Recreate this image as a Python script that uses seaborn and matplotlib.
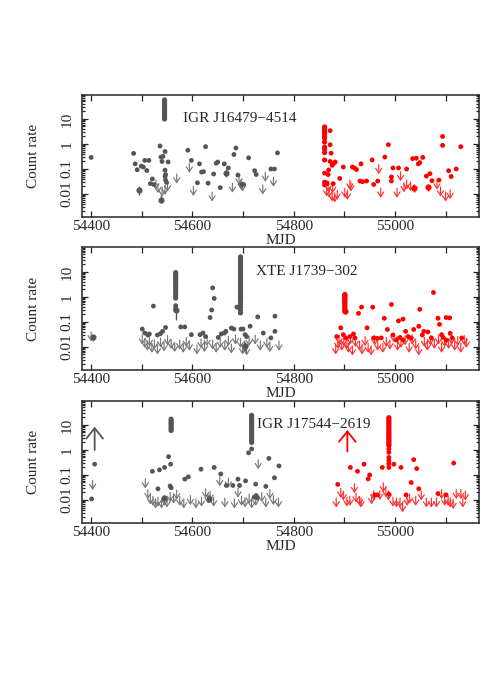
import numpy as np
import matplotlib
matplotlib.use("Agg")
import matplotlib.pyplot as plt
import seaborn as sns
from matplotlib.ticker import MultipleLocator, LogLocator, FixedLocator, FuncFormatter, NullFormatter

sns.set_style("ticks")
plt.rcParams["font.family"] = ["Liberation Serif", "DejaVu Serif"]
plt.rcParams["axes.unicode_minus"] = True

GRAY = "#555555"
GRAY_UL = "#777777"
RED = "#ff0000"
RED_UL = "#ff3030"

# ── panel 1: IGR J16479-4514 ────────────────────────────────────────────────
P1_NAME = "IGR J16479\u22124514"
P1_GRAY_DET = [
    (54400, 0.29), (54484, 0.42), (54487, 0.16), (54491, 0.093), (54499, 0.13),
    (54503, 0.12), (54506, 0.22), (54510, 0.087), (54514, 0.22), (54517, 0.026),
    (54521, 0.04), (54524, 0.024), (54536, 0.83), (54538, 0.30), (54540, 0.20),
    (54542, 0.32), (54546, 0.50), (54546, 0.09), (54547, 0.06), (54546, 0.05),
    (54547, 0.036), (54549, 0.029), (54552, 0.19), (54591, 0.56), (54598, 0.22),
    (54610, 0.028), (54614, 0.16), (54618, 0.075), (54622, 0.078), (54626, 0.78),
    (54631, 0.027), (54642, 0.063), (54647, 0.17), (54650, 0.19), (54655, 0.018),
    (54663, 0.16), (54671, 0.11), (54682, 0.38), (54686, 0.69), (54690, 0.057),
    (54697, 0.024), (54701, 0.024), (54711, 0.28), (54723, 0.085), (54726, 0.06),
    (54755, 0.10), (54762, 0.10), (54768, 0.44),
]
P1_GRAY_ERR = [(54495, 0.014, 0.009, 0.021), (54538, 0.0055, 0.0042, 0.009),
               (54667, 0.07, 0.05, 0.1)]
P1_GRAY_BAR = (54545, [10, 11.5, 13, 15, 17.5, 20, 23, 27, 31, 36, 42, 50, 58])
P1_GRAY_UL = [
    (54528, 0.036), (54532, 0.026), (54540, 0.019), (54546, 0.022), (54551, 0.03),
    (54569, 0.063), (54594, 0.17), (54602, 0.02), (54639, 0.012), (54679, 0.027),
    (54692, 0.057), (54696, 0.036), (54699, 0.03), (54739, 0.023), (54744, 0.074),
    (54760, 0.047),
]
P1_RED_DET = [
    (54872, 3.4), (54872, 0.93), (54874, 0.43), (54869, 0.091), (54868, 0.06),
    (54872, 0.2), (54876, 0.14), (54879, 0.17), (54882, 0.19), (54865, 0.028),
    (54866, 0.026), (54878, 0.026), (54891, 0.042), (54898, 0.12), (54916, 0.12),
    (54920, 0.11), (54924, 0.095), (54933, 0.16), (54931, 0.033), (54936, 0.031),
    (54944, 0.033), (54955, 0.23), (54958, 0.024), (54966, 0.033), (54980, 0.30),
    (54987, 0.94), (54993, 0.048), (54993, 0.033), (54996, 0.11), (55007, 0.11),
    (55023, 0.10), (55035, 0.26), (55042, 0.27), (55046, 0.16), (55049, 0.18),
    (55055, 0.29), (55062, 0.052), (55069, 0.065), (55073, 0.034), (55087, 0.036),
    (55094, 2.0), (55094, 0.88), (55106, 0.085), (55111, 0.05), (55121, 0.10),
    (55130, 0.78), (54861, 0.068), (54861, 0.03), (54862, 0.026), (54861, 0.023),
]
P1_RED_ERR = [(55038, 0.017, 0.012, 0.025), (55066, 0.019, 0.013, 0.026)]
P1_RED_BAR = (54861, [4.8, 4.3, 3.8, 3.3, 2.8, 2.4, 2.0, 1.7, 1.2, 0.75, 0.62, 0.45, 0.23])
P1_RED_UL = [
    (54865, 0.019), (54868, 0.03), (54870, 0.017), (54876, 0.012), (54881, 0.011),
    (54886, 0.014), (54877, 0.026), (54901, 0.017), (54906, 0.014), (54911, 0.036),
    (54913, 0.03), (54968, 0.15), (54972, 0.017), (55004, 0.017), (55011, 0.078),
    (55018, 0.028), (55023, 0.036), (55031, 0.031), (55083, 0.036), (55090, 0.019),
    (55100, 0.012), (55109, 0.015),
]
P1_LOWER = []

# ── panel 2: XTE J1739-302 ──────────────────────────────────────────────────
P2_NAME = "XTE J1739\u2212302"
P2_GRAY_DET = [
    (54523, 0.43), (54635, 0.15), (54638, 0.30), (54640, 2.3), (54643, 0.87),
    (54688, 0.39), (54729, 0.16), (54763, 0.17), (54501, 0.052), (54506, 0.036),
    (54512, 0.03), (54515, 0.033), (54531, 0.03), (54537, 0.034), (54541, 0.042),
    (54547, 0.06), (54577, 0.063), (54585, 0.063), (54598, 0.031), (54615, 0.031),
    (54621, 0.036), (54626, 0.026), (54651, 0.024), (54657, 0.033), (54663, 0.036),
    (54666, 0.042), (54677, 0.057), (54682, 0.052), (54696, 0.052), (54700, 0.052),
    (54704, 0.031), (54707, 0.026), (54714, 0.067), (54740, 0.036), (54755, 0.023),
    (54763, 0.042), (54567, 0.45), (54567, 0.36), (54567, 0.30),
]
P2_GRAY_ERR = [(54403, 0.024, 0.018, 0.03), (54567, 0.3, 0.12, 0.4),
               (54703, 0.011, 0.007, 0.016)]
P2_GRAY_BAR = (54567, [9.4, 8, 6.8, 5.6, 4.7, 3.9, 3.2, 2.6, 2.1, 1.7, 1.4, 1.1, 0.9])
P2_GRAY_BAR2 = (54695, [40, 34, 28, 23, 19, 16, 13, 11, 9, 7.5, 6, 5, 4, 3.3, 2.7,
                        2.2, 1.8, 1.5, 1.2, 1.0, 0.8, 0.65, 0.5, 0.4, 0.3, 0.23])
P2_GRAY_UL = [
    (54400, 0.04), (54501, 0.03), (54506, 0.022), (54511, 0.017), (54515, 0.026),
    (54520, 0.014), (54525, 0.019), (54531, 0.012), (54537, 0.023), (54544, 0.016),
    (54551, 0.028), (54558, 0.02), (54565, 0.015), (54575, 0.019), (54582, 0.014),
    (54588, 0.024), (54594, 0.017), (54609, 0.012), (54617, 0.021), (54624, 0.015),
    (54629, 0.026), (54640, 0.019), (54647, 0.014), (54655, 0.022), (54664, 0.017),
    (54671, 0.026), (54677, 0.013), (54685, 0.03), (54695, 0.022), (54699, 0.012),
    (54703, 0.017), (54707, 0.011), (54712, 0.026), (54724, 0.03), (54734, 0.017),
    (54747, 0.022), (54753, 0.015), (54771, 0.017),
]
P2_RED_DET = [
    (54893, 0.058), (54928, 0.22), (54934, 0.39), (54945, 0.058), (54956, 0.39),
    (54979, 0.14), (54985, 0.05), (54993, 0.50), (55007, 0.11), (55016, 0.13),
    (55037, 0.05), (55047, 0.067), (55049, 0.32), (55065, 0.04), (55076, 1.5),
    (55085, 0.14), (55088, 0.08), (55092, 0.031), (55095, 0.024), (55101, 0.15),
    (55108, 0.145), (55109, 0.035), (55113, 0.023), (55132, 0.023), (54885, 0.026),
    (54898, 0.031), (54903, 0.023), (54911, 0.026), (54918, 0.033), (54921, 0.023),
    (54958, 0.023), (54965, 0.022), (54973, 0.023), (54996, 0.03), (55003, 0.019),
    (55010, 0.024), (55016, 0.019), (55021, 0.042), (55026, 0.026), (55032, 0.023),
    (55054, 0.03), (55057, 0.042), (55072, 0.023), (55101, 0.019),
]
P2_RED_ERR = [(54901, 0.27, 0.2, 0.35)]
P2_RED_BAR = (54901, [1.26, 1.15, 1.05, 0.95, 0.85, 0.75, 0.66, 0.58, 0.5, 0.43,
                      0.37, 0.31, 0.27])
P2_RED_UL = [
    (54883, 0.012), (54887, 0.02), (54890, 0.03), (54895, 0.017), (54899, 0.026),
    (54905, 0.02), (54908, 0.014), (54912, 0.03), (54916, 0.011), (54922, 0.024),
    (54930, 0.017), (54935, 0.012), (54941, 0.026), (54947, 0.014), (54953, 0.011),
    (54960, 0.028), (54966, 0.017), (54976, 0.014), (54983, 0.024), (54990, 0.019),
    (54998, 0.036), (55005, 0.017), (55012, 0.022), (55020, 0.028), (55028, 0.014),
    (55034, 0.03), (55041, 0.019), (55047, 0.011), (55058, 0.024), (55064, 0.017),
    (55070, 0.028), (55078, 0.02), (55086, 0.03), (55092, 0.014), (55098, 0.024),
    (55106, 0.02), (55112, 0.03), (55118, 0.017), (55124, 0.026), (55130, 0.014),
    (55137, 0.028), (55141, 0.022),
]

# ── panel 3: IGR J17544-2619 ────────────────────────────────────────────────
P3_NAME = "IGR J17544\u22122619"
P3_GRAY_DET = [
    (54401, 0.011), (54407, 0.27), (54521, 0.14), (54535, 0.16), (54545, 0.20),
    (54553, 0.54), (54557, 0.27), (54532, 0.028), (54556, 0.036), (54558, 0.031),
    (54585, 0.068), (54592, 0.084), (54617, 0.17), (54643, 0.20), (54656, 0.11),
    (54667, 0.038), (54680, 0.038), (54690, 0.068), (54693, 0.038), (54705, 0.058),
    (54711, 0.77), (54717, 1.1), (54725, 0.043), (54745, 0.035), (54751, 0.46),
    (54762, 0.077), (54771, 0.23), (54722, 0.013), (54726, 0.015), (54728, 0.012),
]
P3_GRAY_ERR = [(54543, 0.012, 0.009, 0.016), (54632, 0.011, 0.008, 0.016)]
P3_GRAY_BAR = (54558, [6, 7, 8, 9.5, 11, 12.5, 14.5, 17])
P3_GRAY_BAR2 = (54717, [2.0, 2.4, 2.9, 3.5, 4.2, 5, 6, 7.2, 8.6, 10.3, 12.3, 14.7,
                        17.6, 21, 24])
P3_GRAY_UL = [
    (54403, 0.06), (54507, 0.07), (54512, 0.026), (54517, 0.016), (54522, 0.014),
    (54527, 0.011), (54532, 0.013), (54539, 0.011), (54545, 0.014), (54550, 0.012),
    (54556, 0.02), (54563, 0.017), (54569, 0.025), (54575, 0.014), (54583, 0.011),
    (54596, 0.015), (54607, 0.011), (54618, 0.013), (54626, 0.028), (54631, 0.017),
    (54635, 0.022), (54642, 0.013), (54654, 0.085), (54664, 0.012), (54671, 0.074),
    (54683, 0.011), (54690, 0.03), (54697, 0.014), (54704, 0.012), (54712, 0.017),
    (54717, 0.011), (54725, 0.014), (54730, 0.41), (54737, 0.02), (54745, 0.012),
    (54753, 0.026), (54760, 0.015), (54770, 0.012),
]
P3_RED_DET = [
    (54887, 0.042), (54912, 0.20), (54926, 0.14), (54939, 0.27), (54947, 0.07),
    (54950, 0.10), (54975, 0.20), (54998, 0.27), (55012, 0.20), (55032, 0.05),
    (55037, 0.41), (55043, 0.18), (55047, 0.028), (55116, 0.30), (54960, 0.016),
    (54965, 0.016), (54988, 0.017), (55022, 0.016), (55085, 0.018), (55101, 0.016),
    (54988, 1.1), (54988, 0.8), (54988, 0.5), (54988, 0.37), (54988, 0.28), (54988, 0.2),
]
P3_RED_ERR = []
P3_RED_BAR = (54988, [1.5, 1.7, 2.0, 2.3, 2.7, 3.1, 3.6, 4.2, 4.9, 5.7, 6.6, 7.7, 9,
                      10.5, 12.2, 14.2, 16.5, 19.5])
P3_RED_UL = [
    (54884, 0.012), (54893, 0.029), (54898, 0.023), (54905, 0.013), (54911, 0.014),
    (54920, 0.045), (54923, 0.019), (54930, 0.014), (54933, 0.012), (54954, 0.016),
    (54958, 0.023), (54970, 0.024), (54977, 0.049), (54982, 0.031), (54987, 0.023),
    (54996, 0.013), (55003, 0.012), (55010, 0.012), (55015, 0.0077), (55024, 0.014),
    (55029, 0.017), (55041, 0.014), (55052, 0.023), (55062, 0.012), (55072, 0.012),
    (55082, 0.012), (55092, 0.026), (55098, 0.014), (55105, 0.014), (55109, 0.012),
    (55115, 0.0105), (55121, 0.026), (55130, 0.026), (55134, 0.012), (55139, 0.023),
]
# lower limits (mjd, from, to)
P3_LOWER = [(54407, 1.0, 8.5, GRAY), (54906, 0.87, 6.3, RED)]

ARROW_DROP = 2.4  # upper-limit arrow length (factor in rate)

PANELS = [
    dict(name=P1_NAME, label_x=54581, gdet=P1_GRAY_DET, gerr=P1_GRAY_ERR,
         gbars=[P1_GRAY_BAR], gul=P1_GRAY_UL, rdet=P1_RED_DET, rerr=P1_RED_ERR,
         rbars=[P1_RED_BAR], rul=P1_RED_UL, lower=P1_LOWER),
    dict(name=P2_NAME, label_x=54725, gdet=P2_GRAY_DET, gerr=P2_GRAY_ERR,
         gbars=[P2_GRAY_BAR, P2_GRAY_BAR2], gul=P2_GRAY_UL, rdet=P2_RED_DET,
         rerr=P2_RED_ERR, rbars=[P2_RED_BAR], rul=P2_RED_UL, lower=[]),
    dict(name=P3_NAME, label_x=54727, gdet=P3_GRAY_DET, gerr=P3_GRAY_ERR,
         gbars=[P3_GRAY_BAR, P3_GRAY_BAR2], gul=P3_GRAY_UL, rdet=P3_RED_DET,
         rerr=P3_RED_ERR, rbars=[P3_RED_BAR], rul=P3_RED_UL, lower=P3_LOWER),
]


def dots(ax, pts, color):
    if not pts:
        return
    x, y = zip(*pts)
    sns.scatterplot(x=list(x), y=list(y), ax=ax, color=color, s=12,
                    edgecolor="none", zorder=3, legend=False)


def bar(ax, b, color):
    mjd, rates = b
    sns.scatterplot(x=[mjd] * len(rates), y=rates, ax=ax, color=color, s=14,
                    edgecolor="none", zorder=3, legend=False)


def errs(ax, pts, color):
    for x, y, lo, hi in pts:
        ax.errorbar([x], [y], yerr=[[y - lo], [hi - y]], fmt="o", ms=3.4,
                    color=color, elinewidth=1.0, capsize=0, zorder=3)


def upper(ax, pts, color):
    for x, y in pts:
        ax.annotate("", xy=(x, y / ARROW_DROP), xytext=(x, y),
                    arrowprops=dict(arrowstyle="->,head_length=0.34,head_width=0.22",
                                    color=color, lw=0.85, shrinkA=0, shrinkB=0))


def lower(ax, pts):
    for x, y0, y1, color in pts:
        ax.annotate("", xy=(x, y1), xytext=(x, y0),
                    arrowprops=dict(arrowstyle="->,head_length=0.75,head_width=0.6",
                                    color=color, lw=1.3, shrinkA=0, shrinkB=0))


fig = plt.figure(figsize=(4.91, 6.94), dpi=100)
bottoms = [0.6873, 0.4669, 0.2464]
for p, b in zip(PANELS, bottoms):
    ax = fig.add_axes([0.167, b, 0.8086, 0.1765])
    ax.set_yscale("log")

    upper(ax, p["gul"], GRAY_UL)
    upper(ax, p["rul"], RED_UL)
    dots(ax, p["gdet"], GRAY)
    dots(ax, p["rdet"], RED)
    for gb in p["gbars"]:
        bar(ax, gb, GRAY)
    for rb in p["rbars"]:
        bar(ax, rb, RED)
    errs(ax, p["gerr"], GRAY)
    errs(ax, p["rerr"], RED)
    lower(ax, p["lower"])

    ax.text(p["label_x"], 10, p["name"], fontsize=11, va="center", ha="left")

    ax.set_xlim(54382, 55166)
    ax.set_ylim(0.0012, 95)

    ax.xaxis.set_major_locator(MultipleLocator(100))
    ax.xaxis.set_major_formatter(
        FuncFormatter(lambda v, pos: f"{int(round(v))}" if int(round(v)) % 200 == 0 else ""))
    ax.yaxis.set_major_locator(FixedLocator([0.01, 0.1, 1, 10]))
    ax.yaxis.set_major_formatter(
        FuncFormatter(lambda v, pos: {0.01: "0.01", 0.1: "0.1", 1: "1", 10: "10"}.get(
            round(v, 3), "")))
    ax.yaxis.set_minor_locator(LogLocator(base=10, subs=np.arange(2, 10), numticks=20))
    ax.yaxis.set_minor_formatter(NullFormatter())

    ax.tick_params(which="both", direction="in", top=True, right=True, width=0.9)
    ax.tick_params(which="major", length=4)
    ax.tick_params(which="minor", length=2.5)
    ax.tick_params(axis="x", labelsize=11, pad=2)
    ax.tick_params(axis="y", labelsize=11, pad=6, labelrotation=90)
    for lab in ax.get_yticklabels():
        lab.set_va("center")
    for sp in ax.spines.values():
        sp.set_linewidth(1.1)
        sp.set_visible(True)

    ax.set_xlabel("MJD", fontsize=11, labelpad=1)
    ax.set_ylabel("Count rate", fontsize=11)
    ax.yaxis.set_label_coords(-0.106, 0.5)

fig.savefig("out.png", dpi=100)
